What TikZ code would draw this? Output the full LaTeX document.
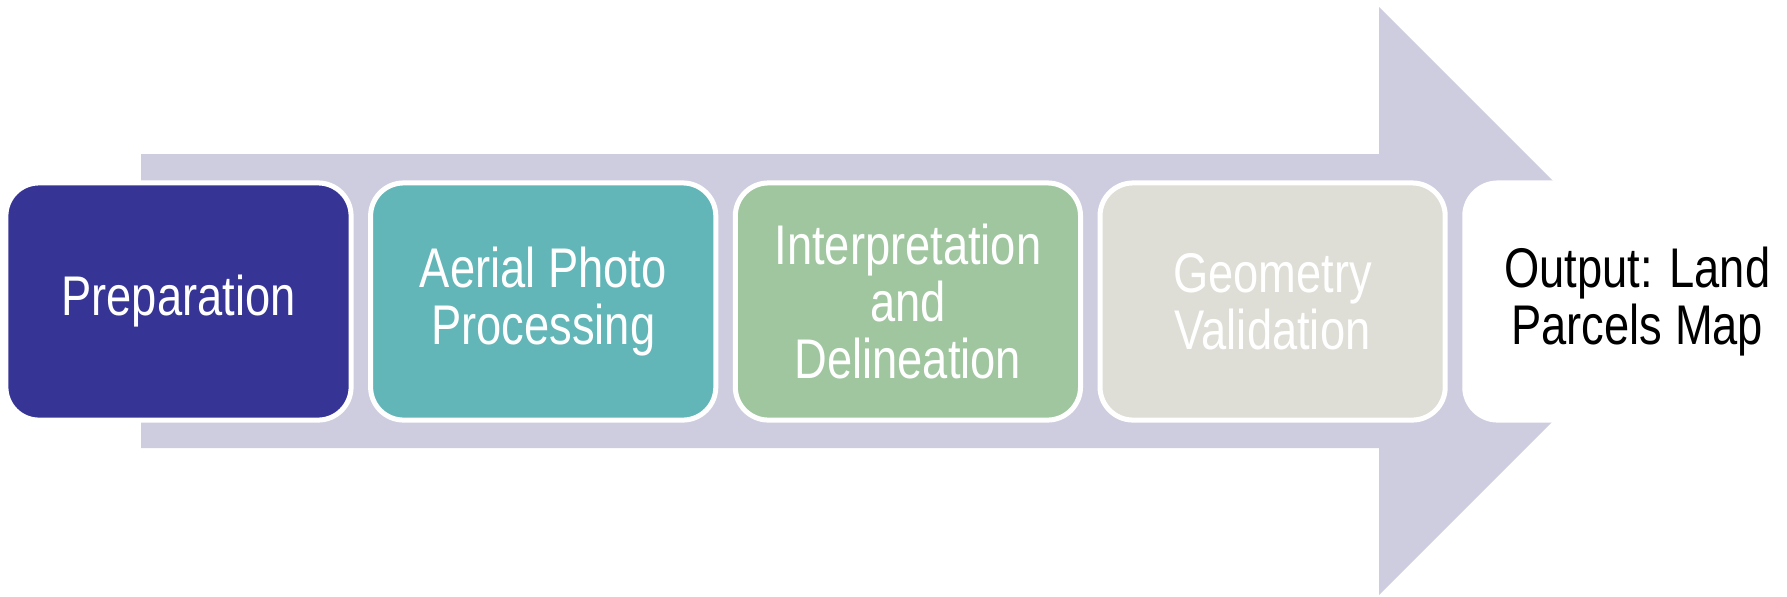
\documentclass[tikz,border=0pt]{standalone}
\usepackage{fontspec}
\setmainfont{Liberation Sans}[FakeStretch=0.81]
\usepackage{tikz}
\usetikzlibrary{positioning}

\definecolor{arrowgrey}{HTML}{CECDDF}
\definecolor{stepblue}{HTML}{363596}
\definecolor{stepteal}{HTML}{62B6B7}
\definecolor{stepgreen}{HTML}{A0C6A0}
\definecolor{stepstone}{HTML}{DEDED6}

\begin{document}
\begin{tikzpicture}[x=0.01cm, y=-0.01cm, node distance=3.645cm, on grid,
    stage/.style={rectangle, rounded corners=0.33cm, draw=white, line width=0.05cm,
                  minimum width=3.45cm, minimum height=2.37cm, align=center,
                  text=white, font=\fontsize{15.9pt}{16.3pt}\selectfont}]
   \useasboundingbox (0,0) rectangle (1787,596);
   \fill[arrowgrey] (141,154) -- (1379,154) -- (1379,7) -- (1673,301)
                    -- (1379,595) -- (1379,448) -- (141,448) -- cycle;

   \node[stage, fill=stepblue]  (prep)   at (178.5,301.5)  {Preparation};
   \node[stage, fill=stepteal]  (aerial) [right=of prep]   {Aerial Photo\\Processing};
   \node[stage, fill=stepgreen] (interp) [right=of aerial] {Interpretation\\and\\Delineation};
   \node[stage, fill=stepstone] (geom)   [right=of interp] {Geometry\\Validation};
   \node[stage, fill=white, text=black] (output) [right=of geom] {Output: Land\\Parcels Map};
\end{tikzpicture}
\end{document}
